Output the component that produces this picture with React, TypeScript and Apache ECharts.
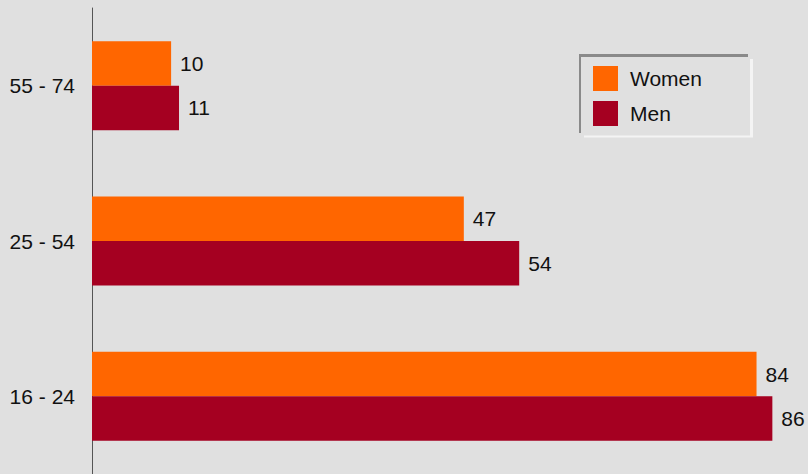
import React, { useEffect, useRef } from "react";
import * as echarts from "echarts";

const categories = ["55 - 74", "25 - 54", "16 - 24"];
const women = [10, 47, 84];
const men = [11, 54, 86];
const seriesNames = ["Women", "Men"];

export default function App() {
  const ref = useRef<HTMLDivElement>(null);
  useEffect(() => {
    if (!ref.current) return;
    const chart = echarts.init(ref.current, undefined, { renderer: "svg" });
    const font = "Liberation Sans, Arial, sans-serif";
    chart.setOption({
      animation: false,
      backgroundColor: "#e0e0e0",
      grid: { left: 92, right: 4, top: 8, bottom: -3, containLabel: false },
      xAxis: {
        type: "value",
        min: 0,
        max: 90,
        show: false,
      },
      yAxis: {
        type: "category",
        inverse: true,
        data: categories,
        axisLine: { show: true, lineStyle: { color: "#555555", width: 1 } },
        axisTick: { show: false },
        axisLabel: { color: "#111111", fontSize: 21, fontFamily: font, margin: 17 },
        splitLine: { show: false },
      },
      legend: {
        orient: "vertical",
        left: 593,
        top: 66,
        padding: 0,
        itemWidth: 25,
        itemHeight: 25,
        itemGap: 10,
        icon: "rect",
        data: seriesNames,
        textStyle: { color: "#111111", fontSize: 21, fontFamily: font, padding: [0, 0, 0, 7] },
      },
      graphic: [
        { type: "line", shape: { x1: 580, y1: 133, x2: 580, y2: 55 }, style: { stroke: "#8a8a8a", lineWidth: 2 } },
        { type: "line", shape: { x1: 579, y1: 55.5, x2: 748, y2: 55.5 }, style: { stroke: "#8a8a8a", lineWidth: 3 } },
        { type: "line", shape: { x1: 584, y1: 136.5, x2: 753, y2: 136.5 }, style: { stroke: "#f4f4f4", lineWidth: 2 } },
        { type: "line", shape: { x1: 751.5, y1: 59, x2: 751.5, y2: 137 }, style: { stroke: "#f4f4f4", lineWidth: 3 } },
      ],
      series: [
        {
          name: seriesNames[0],
          type: "bar",
          data: women,
          barWidth: 44.5,
          barGap: "0%",
          itemStyle: { color: "#ff6600" },
          label: { show: true, position: "right", distance: 9, color: "#111111", fontSize: 21, fontFamily: font },
        },
        {
          name: seriesNames[1],
          type: "bar",
          data: men,
          barWidth: 44.5,
          barGap: "0%",
          itemStyle: { color: "#a50021" },
          label: { show: true, position: "right", distance: 9, color: "#111111", fontSize: 21, fontFamily: font },
        },
      ],
    });
    return () => chart.dispose();
  }, []);
  return (
    <div
      ref={ref}
      style={{ position: "fixed", left: 0, top: 0, width: 808, height: 474 }}
    />
  );
}
